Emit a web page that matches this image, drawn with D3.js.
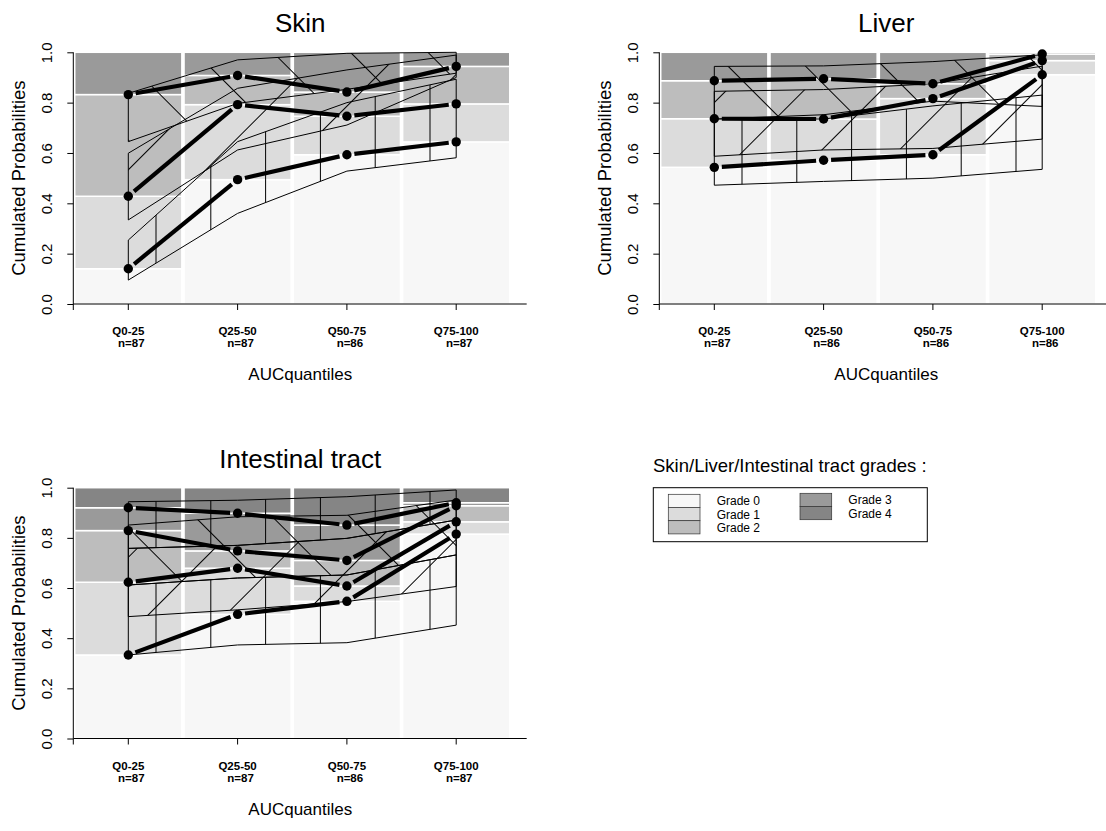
<!DOCTYPE html>
<html>
<head>
<meta charset="utf-8">
<script src="https://cdn.jsdelivr.net/npm/d3@7"></script>
<style>
  body { margin: 0; background: #fff; }
  svg { font-family: "Liberation Sans", Arial, sans-serif; }
</style>
</head>
<body>
<svg id="chart" width="1106" height="831"></svg>
<script>
const quantiles = ["Q0-25", "Q25-50", "Q50-75", "Q75-100"];
const gradeNames = ["Grade 0", "Grade 1", "Grade 2", "Grade 3", "Grade 4"];
const gradeColors = ["#f7f7f7", "#dcdcdc", "#bdbdbd", "#9a9a9a", "#858585"];
const yTicks = [0, 0.2, 0.4, 0.6, 0.8, 1.0];

// skin
const skinN = [87, 87, 86, 87];
const skinCum = [
  [0.140, 0.494, 0.593, 0.644],
  [0.428, 0.792, 0.746, 0.795],
  [0.832, 0.908, 0.842, 0.944]
];
const skinLo = [
  [0.095, 0.360, 0.528, 0.581],
  [0.334, 0.612, 0.711, 0.900],
  [0.645, 0.797, 0.853, 0.917]
];
const skinHi = [
  [0.254, 0.645, 0.800, 0.893],
  [0.599, 0.857, 0.930, 0.989],
  [0.837, 0.970, 0.996, 1.000]
];

// liver
const liverN = [87, 86, 86, 86];
const liverCum = [
  [0.543, 0.571, 0.593, 0.911],
  [0.736, 0.735, 0.816, 0.967],
  [0.887, 0.895, 0.875, 0.993]
];
const liverLo = [
  [0.472, 0.487, 0.500, 0.535],
  [0.587, 0.612, 0.618, 0.655],
  [0.735, 0.752, 0.806, 0.785]
];
const liverHi = [
  [0.735, 0.735, 0.787, 0.830],
  [0.845, 0.852, 0.875, 0.945],
  [0.944, 0.946, 0.963, 0.990]
];

// intestinal tract
const gutN = [87, 87, 86, 87];
const gutCum = [
  [0.333, 0.495, 0.547, 0.815],
  [0.623, 0.679, 0.608, 0.864],
  [0.829, 0.748, 0.710, 0.928],
  [0.920, 0.898, 0.851, 0.940]
];
const gutLo = [
  [0.333, 0.373, 0.382, 0.452],
  [0.486, 0.513, 0.546, 0.606],
  [0.612, 0.640, 0.652, 0.732],
  [0.758, 0.770, 0.798, 0.871]
];
const gutHi = [
  [0.612, 0.640, 0.652, 0.732],
  [0.758, 0.770, 0.798, 0.871],
  [0.851, 0.884, 0.890, 0.951],
  [0.944, 0.950, 0.964, 0.991]
];

const hatchAngles = [0, 45, -45, 0];

const svg = d3.select("#chart");
const defs = svg.append("defs");

function drawPanel(id, title, left, top, bottom, nList, cum, lo, hi) {
  const x = d3.scaleBand().domain(quantiles)
    .range([left + 0.35, left + 437.55])
    .paddingInner(0.02).paddingOuter(0.01);
  const y = d3.scaleLinear().domain([0, 1]).range([bottom, top]);
  const cx = q => x(q) + x.bandwidth() / 2;

  const g = svg.append("g");

  // stacked bars of cumulated grades
  quantiles.forEach((q, i) => {
    const bounds = [0].concat(cum.map(s => s[i])).concat([1]);
    for (let k = 0; k < bounds.length - 1; k++) {
      g.append("rect")
        .attr("x", x(q))
        .attr("width", x.bandwidth())
        .attr("y", y(bounds[k + 1]))
        .attr("height", y(bounds[k]) - y(bounds[k + 1]))
        .attr("fill", gradeColors[k])
        .attr("stroke", "#fff")
        .attr("stroke-width", 1.5);
    }
  });

  // hatched bands
  lo.forEach((loS, k) => {
    const pid = id + "-hatch-" + k;
    const pat = defs.append("pattern")
      .attr("id", pid)
      .attr("patternUnits", "userSpaceOnUse")
      .attr("width", 54.8)
      .attr("height", 20)
      .attr("x", cx(quantiles[0]) + 27.7 - 27.4)
      .attr("patternTransform", "rotate(" + hatchAngles[k] + ")");
    pat.append("line")
      .attr("x1", 27.4).attr("x2", 27.4)
      .attr("y1", -1).attr("y2", 21)
      .attr("stroke", "#000").attr("stroke-width", 1);

    const pts = quantiles.map((q, i) => [cx(q), y(loS[i])])
      .concat(quantiles.map((q, i) => [cx(q), y(hi[k][i])]).reverse());
    g.append("path")
      .attr("d", "M" + pts.map(p => p.join(",")).join("L") + "Z")
      .attr("fill", "url(#" + pid + ")")
      .attr("stroke", "#000")
      .attr("stroke-width", 1);
  });

  // observed cumulated probabilities, type "b"
  const gap = 7.5;
  cum.forEach(s => {
    for (let i = 0; i < s.length - 1; i++) {
      const x1 = cx(quantiles[i]), y1 = y(s[i]);
      const x2 = cx(quantiles[i + 1]), y2 = y(s[i + 1]);
      const len = Math.hypot(x2 - x1, y2 - y1);
      const ux = (x2 - x1) / len, uy = (y2 - y1) / len;
      g.append("line")
        .attr("x1", x1 + ux * gap).attr("y1", y1 + uy * gap)
        .attr("x2", x2 - ux * gap).attr("y2", y2 - uy * gap)
        .attr("stroke", "#000").attr("stroke-width", 4.2);
    }
    g.selectAll(null).data(s).enter().append("circle")
      .attr("cx", (d, i) => cx(quantiles[i]))
      .attr("cy", d => y(d))
      .attr("r", 4.7)
      .attr("fill", "#000");
  });

  // y axis
  const yAxis = g.append("g").attr("transform", "translate(" + left + ",0)")
    .call(d3.axisLeft(y).tickValues(yTicks).tickSize(6).tickFormat(d3.format(".1f")));
  yAxis.select(".domain").attr("stroke", "#000").attr("d", "M0," + y(1) + "V" + y(0));
  yAxis.selectAll(".tick line").attr("stroke", "#000");
  yAxis.selectAll(".tick text")
    .attr("x", null).attr("dy", null)
    .attr("transform", "translate(-21,0) rotate(-90)")
    .attr("text-anchor", "middle")
    .attr("font-size", 15)
    .attr("font-family", "Liberation Sans, Arial, sans-serif")
    .attr("fill", "#000");

  // x axis
  const xAxis = g.append("g").attr("transform", "translate(0," + bottom + ")")
    .call(d3.axisBottom(x).tickSize(6).tickFormat(""));
  xAxis.select(".domain").attr("stroke", "#000").attr("d", "M" + left + ",0H" + (left + 453.4));
  xAxis.selectAll(".tick line").attr("stroke", "#000");
  xAxis.append("line").attr("x1", left).attr("x2", left).attr("y1", 0).attr("y2", 6).attr("stroke", "#000");
  quantiles.forEach((q, i) => {
    const t = xAxis.append("text")
      .attr("text-anchor", "middle")
      .attr("font-size", 11.5)
      .attr("font-weight", "bold")
      .attr("fill", "#000");
    t.append("tspan").attr("x", cx(q)).attr("y", 31).text(q);
    t.append("tspan").attr("x", cx(q) + 3).attr("y", 43).text("n=" + nList[i]);
  });

  g.append("text")
    .attr("x", left + 227).attr("y", bottom + 76)
    .attr("text-anchor", "middle").attr("font-size", 17)
    .text("AUCquantiles");

  g.append("text")
    .attr("transform", "translate(" + (left - 48) + "," + ((top + bottom) / 2) + ") rotate(-90)")
    .attr("text-anchor", "middle").attr("font-size", 18.5)
    .text("Cumulated Probabilities");

  g.append("text")
    .attr("x", left + 227).attr("y", top - 20)
    .attr("text-anchor", "middle").attr("font-size", 26)
    .text(title);
}

drawPanel("skin", "Skin", 73.3, 52.3, 304, skinN, skinCum, skinLo, skinHi);
drawPanel("liver", "Liver", 659.3, 52.3, 304, liverN, liverCum, liverLo, liverHi);
drawPanel("gut", "Intestinal tract", 73.3, 487.7, 738.5, gutN, gutCum, gutLo, gutHi);

// legend
const leg = svg.append("g");
leg.append("text").attr("x", 653).attr("y", 472).attr("font-size", 18.5)
  .text("Skin/Liver/Intestinal tract grades :");
leg.append("rect").attr("x", 653.3).attr("y", 487.7).attr("width", 274).attr("height", 54)
  .attr("fill", "none").attr("stroke", "#000");
gradeNames.forEach((name, k) => {
  const col = k < 3 ? 0 : 1;
  const row = k < 3 ? k : k - 3;
  const sx = col ? 800 : 668.3;
  const sy = (col ? 493.3 : 494.3) + row * 13.2;
  leg.append("rect").attr("x", sx).attr("y", sy).attr("width", 31.7).attr("height", 13.2)
    .attr("fill", gradeColors[k]).attr("stroke", "#333").attr("stroke-width", 0.7);
  leg.append("text").attr("x", col ? 848.3 : 716.7).attr("y", sy + 11)
    .attr("font-size", 12).text(name);
});
</script>
</body>
</html>
